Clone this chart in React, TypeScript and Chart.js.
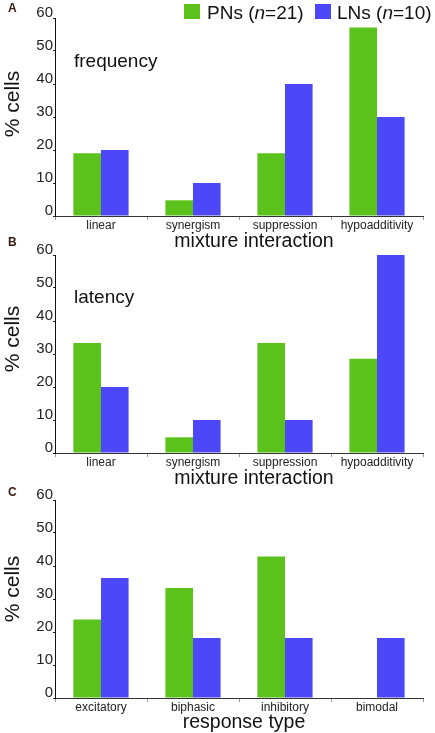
import React, { useEffect, useRef } from "react";
import { Chart, registerables } from "chart.js";

Chart.register(...registerables);

// ---- data ----
const mixtureCategories = ["linear", "synergism", "suppression", "hypoadditivity"];
const responseCategories = ["excitatory", "biphasic", "inhibitory", "bimodal"];
const frequencyPN = [19.05, 4.76, 19.05, 57.14];
const frequencyLN = [20, 10, 40, 30];
const latencyPN = [33.33, 4.76, 33.33, 28.57];
const latencyLN = [20, 10, 10, 60];
const responsePN = [23.81, 33.33, 42.86, 0];
const responseLN = [36.4, 18.2, 18.2, 18.2];
const yTickValues = [0, 10, 20, 30, 40, 50, 60];
const seriesNames = ["PNs", "LNs"];
const seriesN = [21, 10];

const PN_COLOR = "#5BC21B";
const LN_COLOR = "#4C48FA";
const FONT = "'Liberation Sans', Arial, sans-serif";

type PanelProps = { top: number; labels: string[]; pn: number[]; ln: number[] };

function Panel({ top, labels, pn, ln }: PanelProps) {
  const ref = useRef<HTMLCanvasElement>(null);
  useEffect(() => {
    const chart = new Chart(ref.current!, {
      type: "bar",
      data: {
        labels,
        datasets: [
          { label: seriesNames[0], data: pn, backgroundColor: PN_COLOR, barPercentage: 1, categoryPercentage: 0.6 },
          { label: seriesNames[1], data: ln, backgroundColor: LN_COLOR, barPercentage: 1, categoryPercentage: 0.6 },
        ],
      },
      options: {
        animation: false,
        responsive: false,
        devicePixelRatio: 1,
        layout: { padding: { top: 18, right: 12, left: 0, bottom: 0 } },
        plugins: { legend: { display: false }, tooltip: { enabled: false } },
        scales: {
          x: {
            grid: { display: true, drawOnChartArea: false, drawTicks: true, tickLength: 4, color: "#9a9a9a", offset: true },
            border: { display: true, color: "#333", width: 1 },
            ticks: { font: { family: FONT, size: 12 }, color: "#222", padding: -2, maxRotation: 0, autoSkip: false },
            afterFit: (s: any) => { s.height = 24; },
          },
          y: {
            min: 0,
            max: 60,
            afterBuildTicks: (s: any) => { s.ticks = yTickValues.map((v) => ({ value: v })); },
            grid: { drawOnChartArea: false, drawTicks: true, tickLength: 2, color: "#222" },
            border: { color: "#111", width: 1 },
            ticks: { font: { family: FONT, size: 15 }, color: "#222", padding: 0, labelOffset: -5 },
            afterFit: (s: any) => { s.width = 55; },
          },
        },
      },
    } as any);
    return () => chart.destroy();
  }, []);
  return (
    <canvas
      ref={ref}
      width={435}
      height={240}
      style={{ position: "absolute", left: 0, top, width: 435, height: 240 }}
    />
  );
}

function Txt({ x, baseline, size, children, bold, center, color }: any) {
  const top = baseline - 0.847 * size;
  return (
    <div
      style={{
        position: "absolute",
        left: x,
        top,
        fontFamily: FONT,
        fontSize: size,
        lineHeight: 1,
        fontWeight: bold ? "bold" : "normal",
        whiteSpace: "nowrap",
        color: color || "#111",
        transform: center ? "translateX(-50%)" : undefined,
      }}
    >
      {children}
    </div>
  );
}

function YTitle({ cy }: { cy: number }) {
  return (
    <div
      style={{
        position: "absolute",
        left: 11,
        top: cy,
        fontFamily: FONT,
        fontSize: 21,
        lineHeight: 1,
        whiteSpace: "nowrap",
        color: "#111",
        transform: "translate(-50%, -50%) rotate(-90deg)",
      }}
    >
      % cells
    </div>
  );
}

export default function App() {
  return (
    <div style={{ position: "absolute", left: 0, top: 0, width: 435, height: 733, background: "#fff", overflow: "hidden" }}>
      <Panel top={0} labels={mixtureCategories} pn={frequencyPN} ln={frequencyLN} />
      <Panel top={237} labels={mixtureCategories} pn={latencyPN} ln={latencyLN} />
      <Panel top={482} labels={responseCategories} pn={responsePN} ln={responseLN} />

      {/* panel letters */}
      <Txt x={8} baseline={12} size={12} bold color="#3a1a10">A</Txt>
      <Txt x={8} baseline={246} size={12} bold color="#3a1a10">B</Txt>
      <Txt x={8} baseline={496} size={12} bold color="#3a1a10">C</Txt>

      {/* legend */}
      <div style={{ position: "absolute", left: 184, top: 4, width: 16, height: 15, background: PN_COLOR }} />
      <Txt x={207} baseline={19} size={19}>{seriesNames[0]} (<i>n</i>={seriesN[0]})</Txt>
      <div style={{ position: "absolute", left: 315, top: 4, width: 16, height: 15, background: LN_COLOR }} />
      <Txt x={337} baseline={19} size={19}>{seriesNames[1]} (<i>n</i>={seriesN[1]})</Txt>

      {/* inner labels */}
      <Txt x={74} baseline={67} size={19}>frequency</Txt>
      <Txt x={74} baseline={303} size={19}>latency</Txt>

      {/* y titles */}
      <YTitle cy={104} />
      <YTitle cy={339} />
      <YTitle cy={589} />

      {/* x titles */}
      <Txt x={254} baseline={248} size={19.5} center>mixture interaction</Txt>
      <Txt x={254} baseline={485} size={19.5} center>mixture interaction</Txt>
      <Txt x={244} baseline={729} size={19.5} center>response type</Txt>
    </div>
  );
}
